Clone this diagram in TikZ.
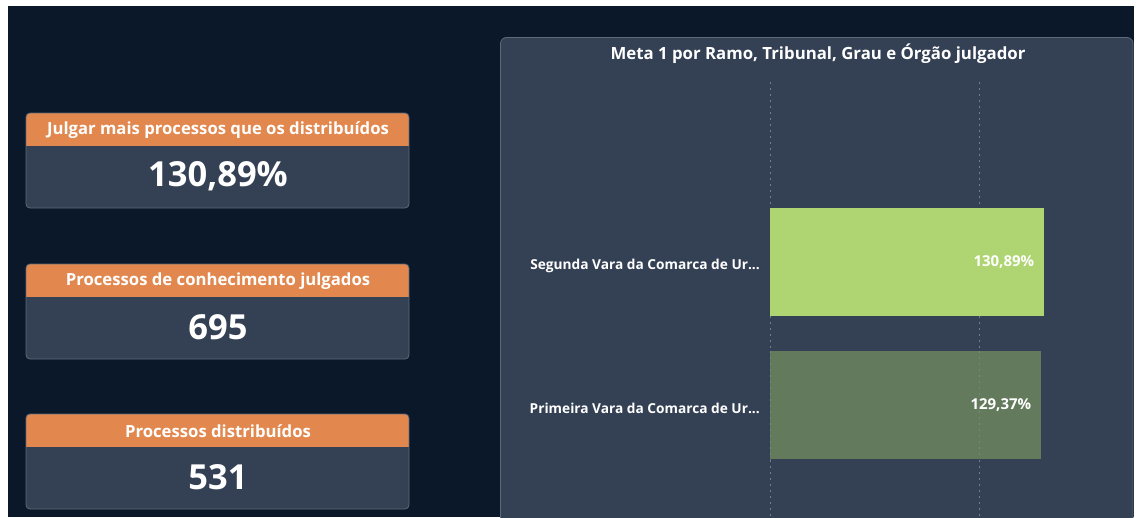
\documentclass[tikz,border=0pt]{standalone}
\usepackage{fontspec}
\setmainfont{Open Sans}
\usetikzlibrary{positioning}

\definecolor{pagebg}{HTML}{0A1829}
\definecolor{panelbg}{HTML}{344155}
\definecolor{panelline}{HTML}{5E6A7A}
\definecolor{headorange}{HTML}{E2884F}
\definecolor{barlight}{HTML}{AED571}
\definecolor{bardark}{HTML}{637B5C}
\definecolor{gridgray}{HTML}{8C98A6}

\tikzset{
  cardframe/.style={draw=panelline, line width=0.8pt, fill=panelbg, rounded corners=4pt},
  headtext/.style={text=white, font=\fontsize{16.7}{19}\selectfont\bfseries, inner sep=0pt},
  bigvalue/.style={text=white, font=\fontsize{34.5}{40}\selectfont\bfseries, inner sep=0pt},
  charttitle/.style={text=white, font=\fontsize{16.8}{19}\selectfont\bfseries, inner sep=0pt},
  catlabel/.style={text=white, font=\fontsize{13.7}{16}\selectfont\bfseries, inner sep=0pt},
  barvalue/.style={text=white, font=\fontsize{15}{18}\selectfont\bfseries, inner sep=0pt},
  barbox/.style={draw=none, inner sep=0pt, anchor=north west},
  gridrule/.style={gridgray, line width=1pt, dash pattern=on 1.5pt off 4.5pt, opacity=0.7}
}

\begin{document}
\begin{tikzpicture}[x=1pt, y=-1pt]
\useasboundingbox (0,0) rectangle (1137,517);
\clip (0,0) rectangle (1137,517);
\fill[white] (0,0) rectangle (1137,517);
\fill[pagebg] (8,6) rectangle (1134,517);

% KPI cards
\foreach \top/\head/\val/\nm in {113/Julgar mais processos que os distribuídos/{130,89\%}/one,
                                 264/Processos de conhecimento julgados/695/two,
                                 414/Processos distribuídos/531/three}{
  \fill[panelbg, rounded corners=4pt] (26,\top) rectangle (409,\top+95);
  \begin{scope}
    \clip[rounded corners=4pt] (26,\top) rectangle (409,\top+95);
    \fill[headorange] (26,\top) rectangle (409,\top+33);
  \end{scope}
  \draw[cardframe, fill=none] (26,\top) rectangle (409,\top+95);
  \node[headtext] (head\nm) at (218,\top+17) {\head};
  \node[bigvalue] (val\nm) at (218,\top+63) {\val};
}

% chart panel
\draw[cardframe, rounded corners=6pt] (500.5,37.5) rectangle (1133,560);
\node[charttitle] (title) at (818,54) {Meta 1 por Ramo, Tribunal, Grau e Órgão julgador};

% gridlines
\draw[gridrule] (770,82) -- (770,517);
\draw[gridrule] (979,82) -- (979,517);

% bars
\node[barbox, fill=barlight, minimum width=274pt, minimum height=108pt] (barseg) at (770,208) {};
\node[barbox, fill=bardark, minimum width=271pt, minimum height=108pt] (barpri) at (770,351) {};
\draw[gridrule, opacity=0.45] (barpri.north west) -- (barpri.south west);
\draw[gridrule, opacity=0.45] (979,351) -- (979,459);

\node[catlabel, left=10pt of barseg.west, yshift=-4pt] (catseg) {Segunda Vara da Comarca de Ur...};
\node[catlabel, left=10pt of barpri.west, yshift=-3pt] (catpri) {Primeira Vara da Comarca de Ur...};
\node[barvalue, left=10pt of barseg.east] (valseg) {130,89\%};
\node[barvalue, left=10pt of barpri.east] (valpri) {129,37\%};
\end{tikzpicture}
\end{document}
